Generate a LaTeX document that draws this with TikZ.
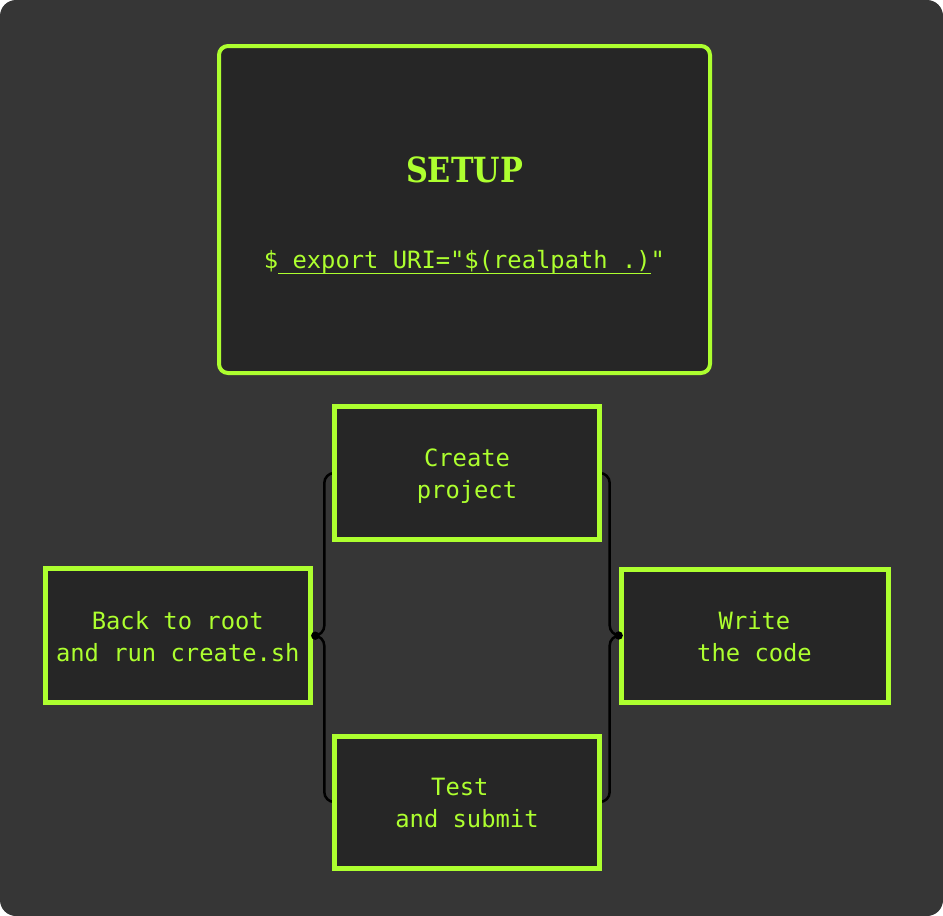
\documentclass[tikz,border=0pt]{standalone}
\usepackage{fontspec}
\usepackage{graphicx}
\usetikzlibrary{calc}
\newfontfamily\monof{DejaVu Sans Mono}
\newfontfamily\slabf{DejaVu Serif}
\definecolor{bgc}{HTML}{363636}
\definecolor{boxc}{HTML}{262626}
\definecolor{lime}{HTML}{ADFF2F}
\newcommand\myul[1]{\setbox0\hbox{#1}\rlap{\rule[-5.5pt]{\wd0}{1.3pt}}\box0}
\newcommand\twolines[2]{\raisebox{-3.5pt}[\height][\depth]{\begin{tabular}{@{}c@{}}#1\\#2\end{tabular}}}
\pgfdeclarelayer{bglayer}
\pgfdeclarelayer{connlayer}
\pgfsetlayers{bglayer,connlayer,main}
\tikzset{
  stepbox/.style={draw=lime, line width=5pt, fill=boxc, text=lime,
    inner sep=0pt, font={\fontsize{23.8}{32}\selectfont\monof}},
  conn/.style={draw=black, line width=2.5pt, rounded corners=10pt},
  dotc/.style={fill=black},
}
\begin{document}
\begin{tikzpicture}[x=1pt,y=-1pt]
\useasboundingbox (0,0) rectangle (943,916);
\begin{pgfonlayer}{bglayer}
\fill[white] (0,0) rectangle (943,916);
\fill[bgc, rounded corners=16pt] (0,0) rectangle (943,916);
\end{pgfonlayer}
% setup box
\node[draw=lime, line width=4pt, fill=boxc, rounded corners=9pt, minimum width=491pt, minimum height=327pt, inner sep=0pt] (setup) at (464.5,209.5) {};
\node[text=lime, anchor=base, inner sep=0pt, font={\fontsize{33}{36}\selectfont\slabf\bfseries}] (title) at (464.5,182) {\scalebox{0.92}[1.05]{SETUP}};
\node[text=lime, anchor=base, inner sep=0pt, font={\fontsize{23.8}{32}\selectfont\monof}] (cmd) at (464.5,268.5) {\$\myul{ export URI="\$(realpath .)}"};
% steps
\node[stepbox, minimum width=265pt, minimum height=133pt] (create) at (467,473) {\twolines{Create}{project}};
\node[stepbox, minimum width=265pt, minimum height=133.5pt] (back) at (177.8,635.7) {\twolines{Back to root}{and run create.sh}};
\node[stepbox, minimum width=267pt, minimum height=133pt] (write) at (754.5,635.5) {\twolines{Write}{the code}};
\node[stepbox, minimum width=265pt, minimum height=132pt] (test) at (467,802) {\twolines{Test\phantom{x}}{and submit}};
% connectors
\coordinate (ldot) at ($(back.east)+(2.5,0)$);
\coordinate (rdot) at ($(write.west)+(0.2,0)$);
\begin{pgfonlayer}{connlayer}
\draw[conn] (create.west) -| ($(ldot)+(9,0)$) -- (ldot);
\draw[conn] (ldot) -- ($(ldot)+(9,0)$) |- (test.west);
\draw[conn] (create.east) -| ($(rdot)+(-9,0)$) -- (rdot);
\draw[conn] (rdot) -- ($(rdot)+(-9,0)$) |- (test.east);
\end{pgfonlayer}
\fill[dotc] (ldot) circle (4.2pt);
\fill[dotc] (rdot) circle (4.2pt);
\end{tikzpicture}
\end{document}
